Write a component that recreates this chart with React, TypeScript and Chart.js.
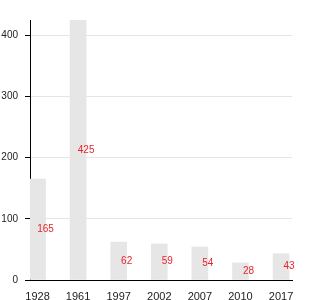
import React, { useEffect, useRef } from "react";
import { Chart, registerables } from "chart.js";

Chart.register(...registerables);

const categories = ["1928", "1961", "1997", "2002", "2007", "2010", "2017"];
const values = [165, 425, 62, 59, 54, 28, 43];
const yTicks = [0, 100, 200, 300, 400];

const labelPlugin = {
  id: "barLabels",
  afterDatasetsDraw(chart: any) {
    const ctx = chart.ctx;
    const meta = chart.getDatasetMeta(0);
    ctx.save();
    ctx.font = "10px 'Liberation Sans', Arial, sans-serif";
    ctx.fillStyle = "#e8242a";
    ctx.textAlign = "center";
    ctx.textBaseline = "middle";
    meta.data.forEach((bar: any, i: number) => {
      const y = (bar.y + bar.base) / 2;
      ctx.fillText(String(values[i]), bar.x + 8, y);
    });
    ctx.restore();
  },
};

export default function App() {
  const ref = useRef<HTMLCanvasElement>(null);
  useEffect(() => {
    document.body.style.margin = "0";
    const chart = new Chart(ref.current!, {
      type: "bar",
      data: {
        datasets: [
          {
            data: values.map((v, i) => ({ x: i, y: v })),
            backgroundColor: "#e6e6e6",
            barThickness: 16,
          },
        ],
      },
      options: {
        responsive: false,
        animation: false,
        layout: { padding: { top: 20, right: 38, left: 0, bottom: 0 } },
        plugins: { legend: { display: false }, tooltip: { enabled: false } },
        scales: {
          x: {
            type: "linear",
            offset: false,
            min: -0.185,
            max: 6.27,
            afterBuildTicks: (scale: any) => {
              scale.ticks = categories.map((_, i) => ({ value: i }));
            },
            afterFit: (scale: any) => {
              scale.height = 20;
            },
            ticks: {
              callback: (v: any) => categories[v] ?? "",
              color: "#222",
              font: { size: 11, family: "'Liberation Sans', Arial, sans-serif" },
              padding: 2,
              maxRotation: 0,
              autoSkip: false,
            },
            grid: { display: false, offset: false },
            border: { display: true, color: "#000", width: 1 },
          },
          y: {
            min: 0,
            max: 425,
            afterBuildTicks: (scale: any) => {
              scale.ticks = yTicks.map((v) => ({ value: v }));
            },
            afterFit: (scale: any) => {
              scale.width = 30;
            },
            ticks: {
              color: "#222",
              font: { size: 10, family: "'Liberation Sans', Arial, sans-serif" },
              padding: 7,
            },
            grid: {
              color: "#e5e5e5",
              tickColor: "#000",
              tickLength: 5,
            },
            border: { display: true, color: "#000", width: 1 },
          },
        },
      },
      plugins: [labelPlugin],
    });
    return () => chart.destroy();
  }, []);
  return <canvas ref={ref} width={330} height={300} />;
}
